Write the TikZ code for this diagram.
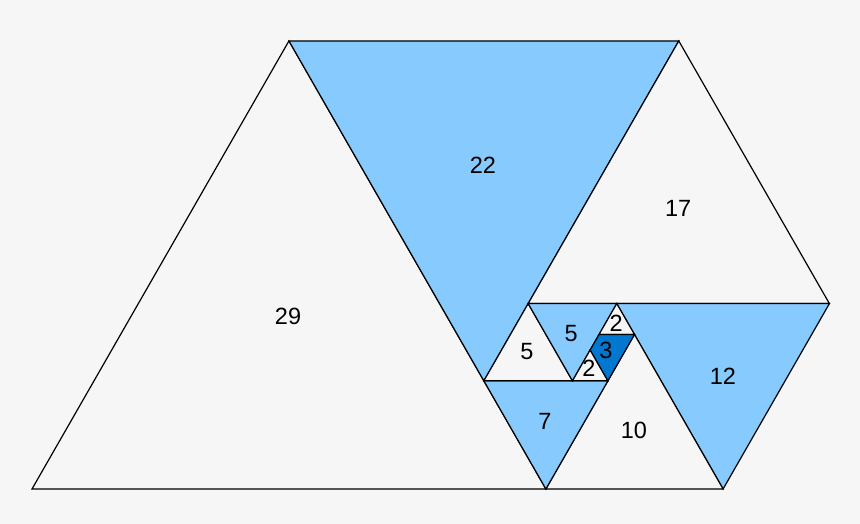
\documentclass[tikz,border=0pt]{standalone}
\usepackage{fontspec}
\setmainfont{Liberation Sans}
\definecolor{bg}{HTML}{F6F6F6}
\definecolor{lightblue}{HTML}{87CAFE}
\definecolor{darkblue}{HTML}{0078D0}
\begin{document}
\begin{tikzpicture}[x=17.72pt,y=15.45pt,
  tri/.style={draw=black,line width=1.2pt,line join=miter},
  white/.style={tri,fill=bg},
  light/.style={tri,fill=lightblue},
  dark/.style={tri,fill=darkblue},
  lbl/.style={font=\fontsize{23.5}{28}\selectfont,text=black,inner sep=0pt}]
\fill[bg] (-1.806,-2.265) rectangle (46.727,31.65);
\useasboundingbox (-1.806,-2.265) rectangle (46.727,31.65);
% points
\coordinate (A) at (0,0);
\coordinate (B) at (29,0);
\coordinate (C) at (14.5,29);
\coordinate (D) at (36.5,29);
\coordinate (E) at (25.5,7);
\coordinate (F) at (28,12);
\coordinate (G) at (45,12);
\coordinate (H) at (33,12);
\coordinate (I) at (39,0);
\coordinate (J) at (34,10);
\coordinate (K) at (32.5,7);
\coordinate (L) at (30.5,7);
\coordinate (M) at (32,10);
\coordinate (N) at (31.5,9);
% triangles
\draw[white] (A) -- (B) -- (C) -- cycle;
\draw[light] (C) -- (D) -- (E) -- cycle;
\draw[white] (D) -- (F) -- (G) -- cycle;
\draw[light] (H) -- (G) -- (I) -- cycle;
\draw[white] (B) -- (I) -- (J) -- cycle;
\draw[light] (E) -- (K) -- (B) -- cycle;
\draw[white] (E) -- (L) -- (F) -- cycle;
\draw[light] (F) -- (H) -- (L) -- cycle;
\draw[white] (M) -- (J) -- (H) -- cycle;
\draw[white] (L) -- (K) -- (N) -- cycle;
\draw[dark] (M) -- (J) -- (K) -- (N) -- cycle;
% labels
\node[lbl] (t29) at (14.45,11.2) {29};
\node[lbl] (t22) at (25.45,20.97) {22};
\node[lbl] (t17) at (36.46,18.19) {17};
\node[lbl] (t12) at (38.99,7.31) {12};
\node[lbl] (t10) at (33.97,3.82) {10};
\node[lbl] (t7) at (28.95,4.4) {7};
\node[lbl] (t5a) at (27.93,8.87) {5};
\node[lbl] (t5b) at (30.42,10.08) {5};
\node[lbl] (t3) at (32.39,9.0) {3};
\node[lbl] (t2a) at (32.96,10.74) {2};
\node[lbl] (t2b) at (31.43,7.83) {2};
\end{tikzpicture}
\end{document}
